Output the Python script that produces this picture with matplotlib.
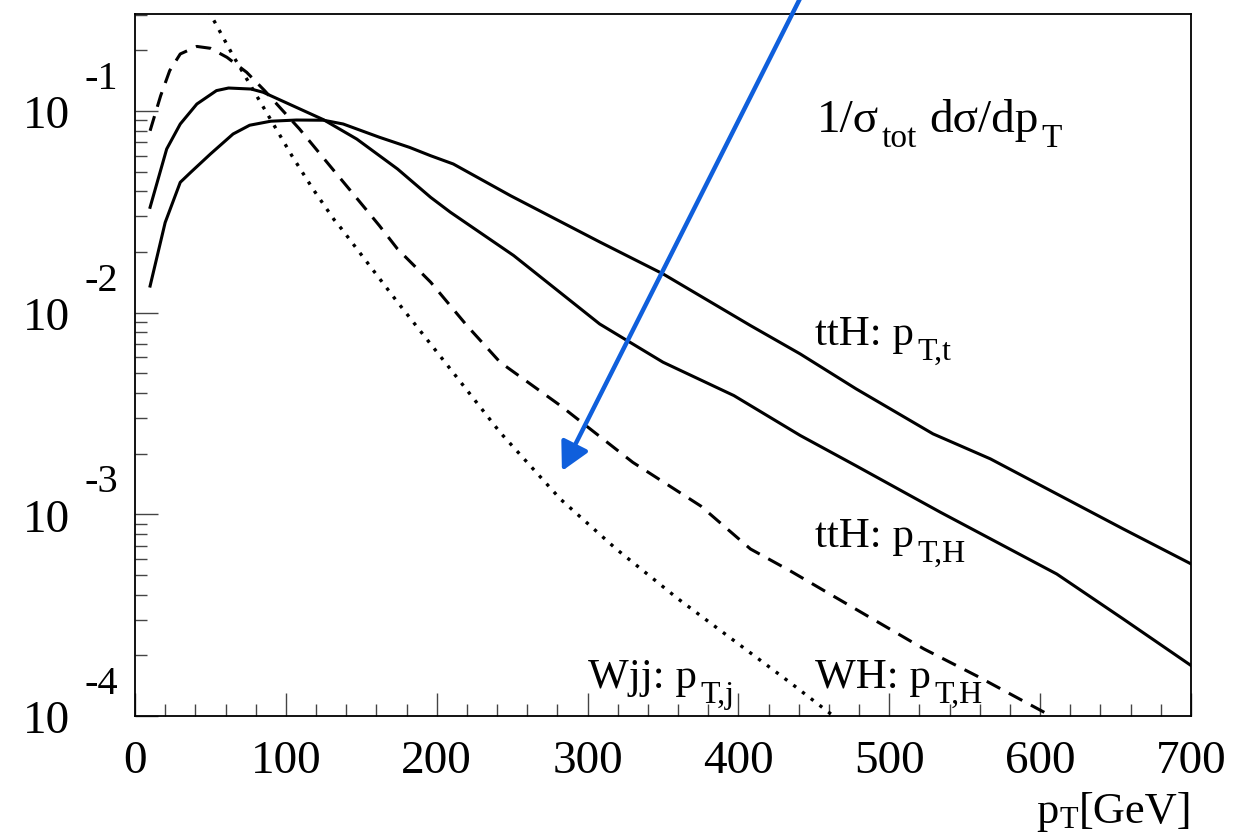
import numpy as np
import matplotlib
matplotlib.use('Agg')
import matplotlib.pyplot as plt
from matplotlib.ticker import MultipleLocator, LogLocator, NullFormatter

plt.rcParams['font.family'] = ['Liberation Serif', 'DejaVu Serif']

# ---------------- data ----------------
ttH_t_pt = [10, 20, 30, 37, 50, 65, 76, 90, 107, 125, 138, 162, 182, 196, 211,
            249, 308, 350, 408, 441, 478, 529, 567, 611, 655, 700]
ttH_t_y = [0.01355, 0.0280, 0.0443, 0.0497, 0.0612, 0.0769, 0.0850, 0.0890, 0.0902,
           0.0900, 0.0862, 0.0741, 0.0660, 0.0600, 0.0546, 0.0380, 0.02243,
           0.01557, 0.00863, 0.00624, 0.00419, 0.002506, 0.001884, 0.001263,
           0.000847, 0.000568]

ttH_H_pt = [10, 21, 30, 41, 54, 62, 77, 85, 107, 125, 147, 174, 196, 209, 251,
            308, 350, 397, 441, 478, 534, 611, 655, 700]
ttH_H_y = [0.0333, 0.0648, 0.0862, 0.1083, 0.1262, 0.1300, 0.1285, 0.1238, 0.1042,
           0.0905, 0.0726, 0.0516, 0.0373, 0.0315, 0.0192, 0.00879, 0.00568,
           0.00388, 0.00246, 0.00174, 0.001023, 0.000506, 0.000303, 0.000178]

WH_pt = [10, 17, 23, 30, 41, 50, 61, 74, 86, 98, 109, 120, 131, 142, 153, 162,
         174, 196, 220, 242, 282, 330, 375, 408, 434, 523, 558, 602, 610]
WH_y = [0.0798, 0.119, 0.1585, 0.1918, 0.2090, 0.2046, 0.1845, 0.1556, 0.126,
        0.1003, 0.0815, 0.0648, 0.0515, 0.041, 0.0326, 0.027, 0.0207, 0.01416,
        0.00863, 0.00568, 0.00346, 0.00181, 0.0011, 0.000673, 0.000526,
        0.000215, 0.000158, 0.000105, 0.000097]

Wjj_pt = [45, 53, 65, 78, 91, 104, 118, 132, 137, 174, 209, 242, 282, 319, 360,
          434, 463, 470]
Wjj_y = [0.35, 0.275, 0.188, 0.1285, 0.0879, 0.0600, 0.0410, 0.0289, 0.0260,
         0.01128, 0.00526, 0.00255, 0.00119, 0.000673, 0.000381, 0.000147,
         0.000100, 0.000093]

x_ticks = [0, 100, 200, 300, 400, 500, 600, 700]
y_exponents = [-1, -2, -3, -4]

# annotation arrow (data coordinates)
arrow_from = (444.0, 0.4027)
arrow_to = (283.0, 0.00164)

# ---------------- figure ----------------
W, H = 1237, 837
fig = plt.figure(figsize=(W / 100, H / 100), dpi=100)
ax = fig.add_axes([135 / W, 1 - 717 / H, (1191 - 135) / W, (717 - 15) / H])
ax.set_yscale('log')
ax.set_xlim(0, 700)
ax.set_ylim(1e-4, 10 ** (-1 + 97 / 201.67))

lw = 2.2
ax.plot(ttH_t_pt, ttH_t_y, color='black', lw=lw, solid_joinstyle='round')
ax.plot(ttH_H_pt, ttH_H_y, color='black', lw=lw, solid_joinstyle='round')
ax.plot(WH_pt, WH_y, color='black', lw=lw, linestyle=(0, (5, 3.2)),
        dash_capstyle='butt')
ax.plot(Wjj_pt, Wjj_y, color='black', lw=2.4, linestyle=(0, (1, 2.3)),
        dash_capstyle='butt')

# axes style (ROOT-like)
for s in ax.spines.values():
    s.set_linewidth(1.3)
ax.set_xticks(x_ticks)
ax.xaxis.set_minor_locator(MultipleLocator(20))
ax.yaxis.set_major_locator(LogLocator(base=10))
ax.yaxis.set_minor_locator(LogLocator(base=10, subs=np.arange(2, 10)))
ax.yaxis.set_major_formatter(NullFormatter())
ax.yaxis.set_minor_formatter(NullFormatter())
ax.tick_params(which='both', direction='in', top=False, right=False,
               width=1.0, color='#444444')
ax.tick_params(which='major', length=16.5)
ax.tick_params(which='minor', length=8.5)
ax.tick_params(axis='x', labelsize=34, pad=17)

for e in y_exponents:
    ax.annotate('10', xy=(0, 10.0 ** e), xycoords=ax.get_yaxis_transform(),
                xytext=(-65 * 0.72, 0), textcoords='offset points',
                ha='right', va='center_baseline', fontsize=34)
    ax.annotate(str(e), xy=(0, 10.0 ** e), xycoords=ax.get_yaxis_transform(),
                xytext=(-17 * 0.72, 37 * 0.72), textcoords='offset points',
                ha='right', va='center_baseline', fontsize=29)

renderer = fig.canvas.get_renderer()


def rich(px, py, parts, ha='left'):
    """parts: list of (text, fontsize, drop_px, gap_before_px)."""
    objs = []
    x = 0.0
    for s, size, dy, gap in parts:
        x += gap
        t = fig.text(0, 0, s, fontsize=size, va='baseline', ha='left')
        w = t.get_window_extent(renderer).width
        objs.append((t, x, dy))
        x += w
    x0 = px - x if ha == 'right' else px
    for t, xo, dy in objs:
        t.set_position(((x0 + xo) / W, 1 - (py + dy) / H))


M, S, D = 31, 23, 15
rich(817, 132, [('1/σ', 34, 0, 0), ('tot', 24, D, 2), ('dσ/dp', 34, 0, 13),
                ('T', 24, D, 2)])
rich(815, 345, [('ttH: p', M, 0, 0), ('T,t', S, D, 4)])
rich(815, 547, [('ttH: p', M, 0, 0), ('T,H', S, D, 4)])
rich(588, 688, [('Wjj: p', M, 0, 0), ('T,j', S, D, 4)])
rich(815, 688, [('WH: p', M, 0, 0), ('T,H', S, D, 4)])
rich(1192, 823, [('p', 32, 0, 0), ('T', 22, 5, 1), ('[GeV]', 32, 0, 0)], ha='right')

ax.annotate('', xy=arrow_to, xytext=arrow_from,
            arrowprops=dict(arrowstyle='-|>,head_length=0.53,head_width=0.28',
                            color='#0f5fdc', lw=3.2,
                            mutation_scale=32, shrinkA=0, shrinkB=0),
            annotation_clip=False)

fig.savefig('out.png', dpi=100)
